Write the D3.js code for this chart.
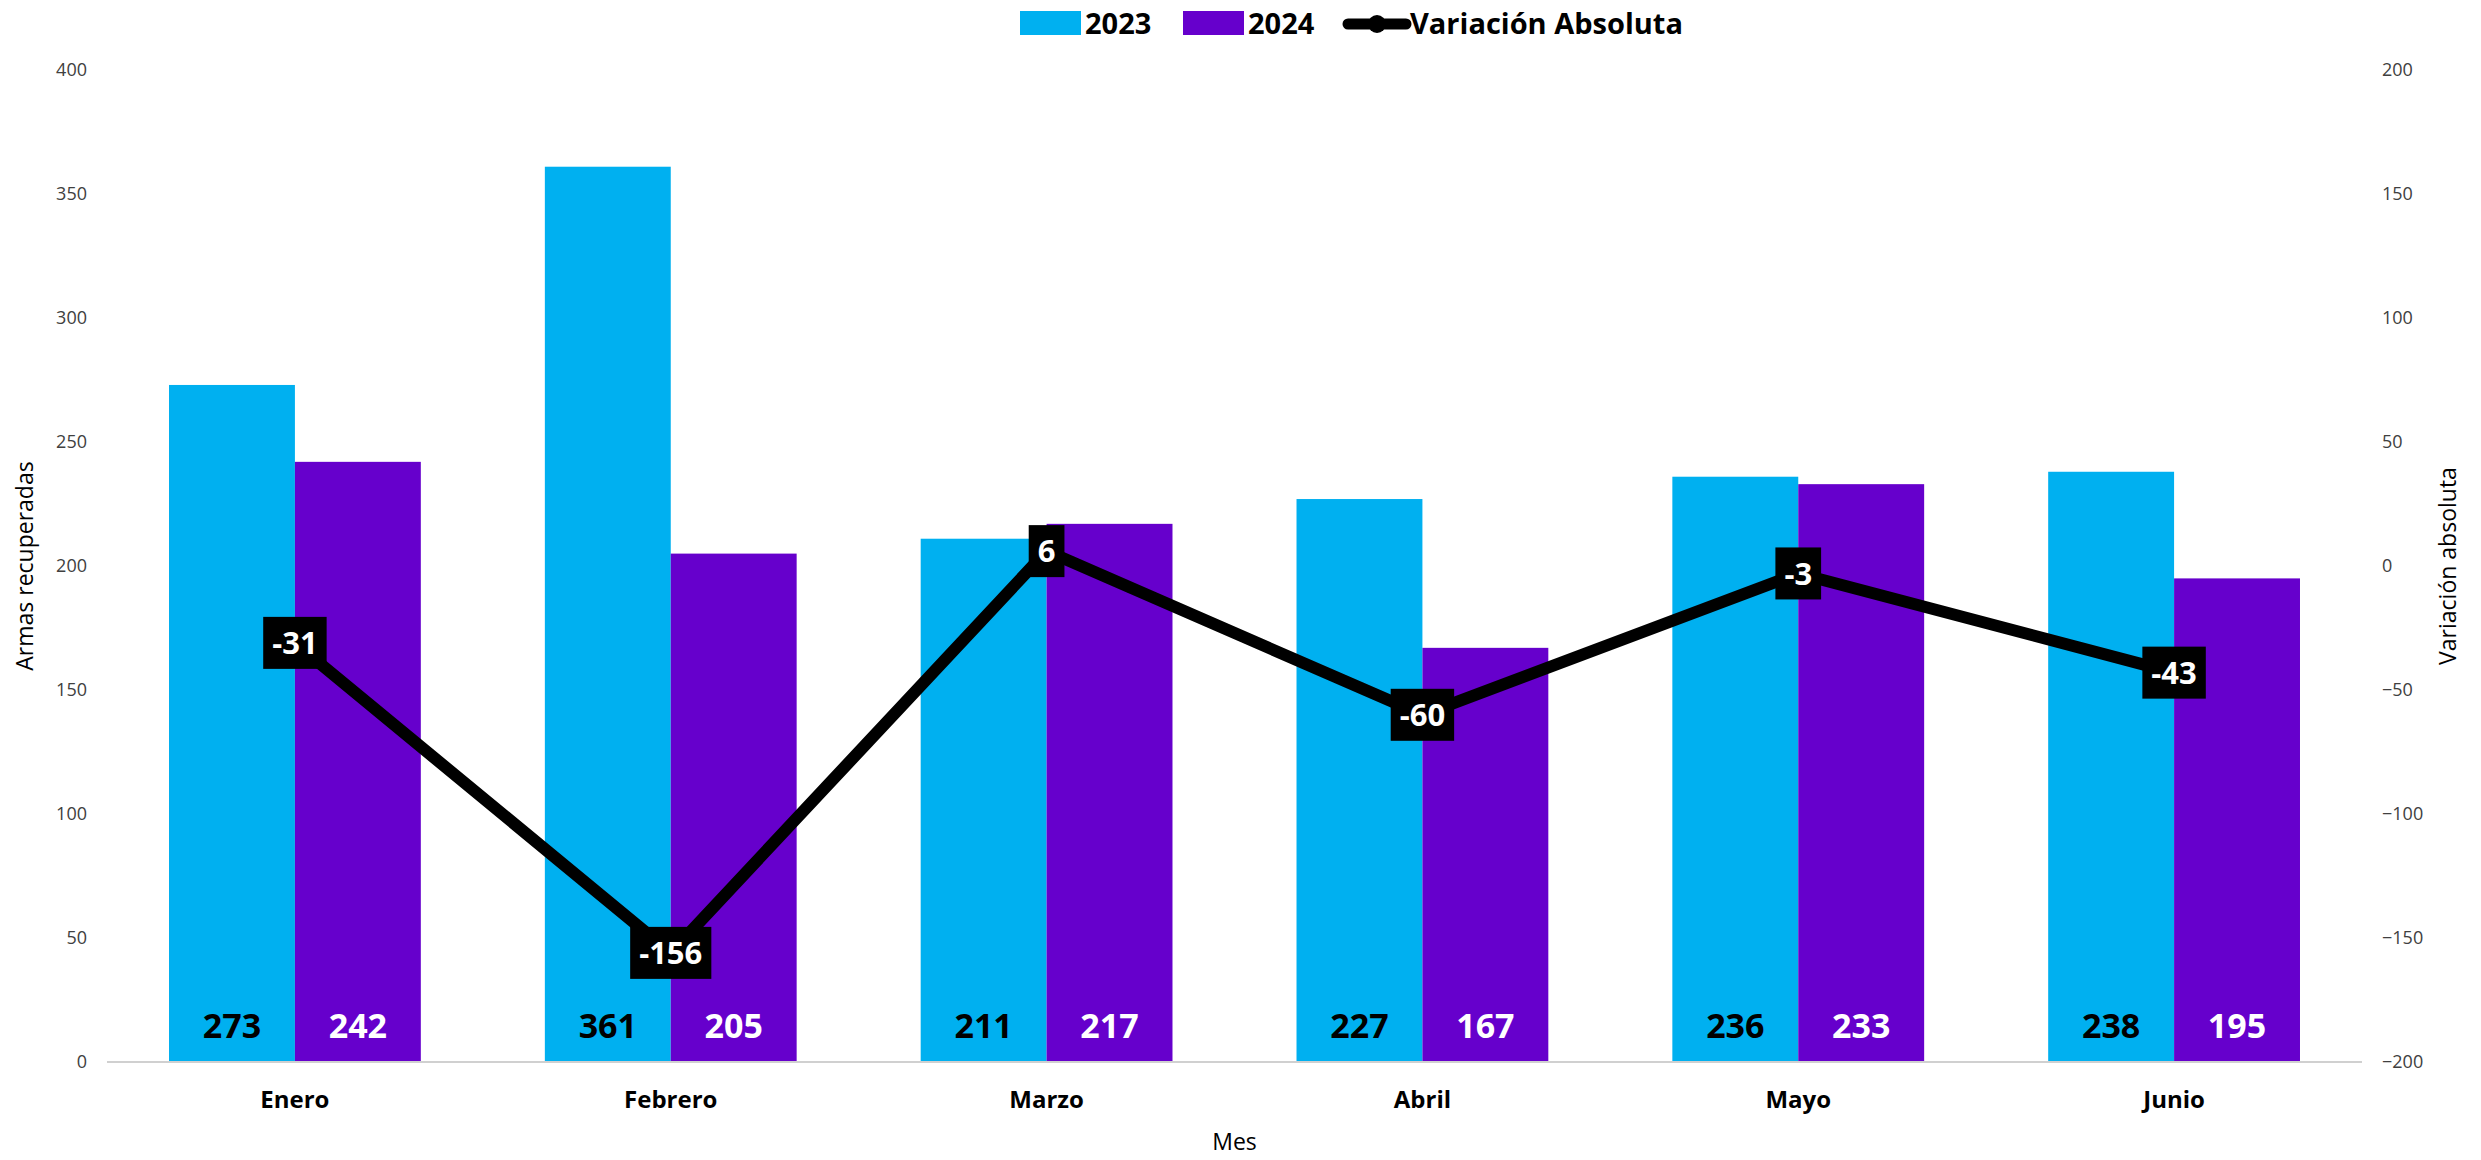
<!DOCTYPE html>
<html lang="en">
<head>
    <meta charset="UTF-8">
    <title>Armas recuperadas</title>
    <script src="https://d3js.org/d3.v7.min.js"></script>
    <style>
        body { margin: 0; background: #fff; }
        svg { width: 2481px; height: 1160px; font-family: "Open Sans", sans-serif; }
    </style>
</head>
<body>
    <svg id="chart"></svg>
    <script>
        // data
        var months = ['Enero', 'Febrero', 'Marzo', 'Abril', 'Mayo', 'Junio'];
        var values2023 = [273, 361, 211, 227, 236, 238];
        var values2024 = [242, 205, 217, 167, 233, 195];
        var variacion = [-31, -156, 6, -60, -3, -43];
        var leftTicks = [0, 50, 100, 150, 200, 250, 300, 350, 400];
        var rightTicks = [-200, -150, -100, -50, 0, 50, 100, 150, 200];

        function program() {
            var c2023 = '#00B0F0', c2024 = '#6600CC';
            var mLeft = 107, mRight = 2362, mTop = 70, mBottom = 1062;

            var svg = d3.select('#chart');

            var x = d3.scaleBand().domain(months).range([mLeft, mRight])
                .paddingInner(0.33).paddingOuter(0.165);
            var xSub = d3.scaleBand().domain(['2023', '2024']).range([0, x.bandwidth()]);
            var y = d3.scaleLinear().domain([0, 400]).range([mBottom, mTop]);
            var y2 = d3.scaleLinear().domain([-200, 200]).range([mBottom, mTop]);

            // axes
            var yAxis = svg.append('g').attr('transform', `translate(${mLeft - 20},0)`)
                .call(d3.axisLeft(y).tickValues(leftTicks).tickSize(0).tickPadding(0));
            var y2Axis = svg.append('g').attr('transform', `translate(${mRight + 20},0)`)
                .call(d3.axisRight(y2).tickValues(rightTicks).tickSize(0).tickPadding(0));
            [yAxis, y2Axis].forEach(function(a) {
                a.select('.domain').remove();
                a.selectAll('text').attr('font-size', 18).attr('fill', '#404040')
                    .attr('font-family', '"Open Sans", sans-serif');
            });

            // bars
            var groups = svg.append('g').selectAll('g').data(months).join('g')
                .attr('transform', d => `translate(${x(d)},0)`);

            groups.append('rect')
                .attr('x', xSub('2023')).attr('width', xSub.bandwidth())
                .attr('y', (d, i) => y(values2023[i]))
                .attr('height', (d, i) => y(0) - y(values2023[i]))
                .attr('fill', c2023);
            groups.append('rect')
                .attr('x', xSub('2024')).attr('width', xSub.bandwidth())
                .attr('y', (d, i) => y(values2024[i]))
                .attr('height', (d, i) => y(0) - y(values2024[i]))
                .attr('fill', c2024);

            groups.append('text')
                .attr('x', xSub('2023') + xSub.bandwidth() / 2).attr('y', mBottom - 24)
                .attr('text-anchor', 'middle').attr('font-size', 34).attr('font-weight', 'bold')
                .attr('fill', '#000').text((d, i) => values2023[i]);
            groups.append('text')
                .attr('x', xSub('2024') + xSub.bandwidth() / 2).attr('y', mBottom - 24)
                .attr('text-anchor', 'middle').attr('font-size', 34).attr('font-weight', 'bold')
                .attr('fill', '#fff').text((d, i) => values2024[i]);

            // baseline
            svg.append('line').attr('x1', mLeft).attr('x2', mRight)
                .attr('y1', mBottom).attr('y2', mBottom)
                .attr('stroke', '#d0d0d0').attr('stroke-width', 2);

            // category labels
            svg.append('g').selectAll('text').data(months).join('text')
                .attr('x', d => x(d) + x.bandwidth() / 2).attr('y', 1108)
                .attr('text-anchor', 'middle').attr('font-size', 24).attr('font-weight', 'bold')
                .attr('fill', '#000').text(d => d);

            // line
            var line = d3.line()
                .x((d, i) => x(months[i]) + x.bandwidth() / 2)
                .y(d => y2(d));
            svg.append('path').datum(variacion).attr('d', line)
                .attr('fill', 'none').attr('stroke', '#000').attr('stroke-width', 12)
                .attr('stroke-linejoin', 'round');

            // line labels
            var lbl = svg.append('g').selectAll('g').data(variacion).join('g')
                .attr('transform', (d, i) => `translate(${x(months[i]) + x.bandwidth() / 2},${y2(d)})`);
            lbl.append('text')
                .attr('text-anchor', 'middle').attr('dy', '0.36em')
                .attr('font-size', 31).attr('font-weight', 'bold').attr('fill', '#fff')
                .text(d => d);
            lbl.each(function() {
                var g = d3.select(this);
                var bb = g.select('text').node().getBBox();
                g.insert('rect', 'text')
                    .attr('x', bb.x - 9).attr('y', -26)
                    .attr('width', bb.width + 18).attr('height', 52)
                    .attr('fill', '#000');
            });

            // axis titles
            svg.append('text').attr('transform', `translate(33,${(mTop + mBottom) / 2}) rotate(-90)`)
                .attr('text-anchor', 'middle').attr('font-size', 23).attr('fill', '#000')
                .text('Armas recuperadas');
            svg.append('text').attr('transform', `translate(2456,${(mTop + mBottom) / 2}) rotate(-90)`)
                .attr('text-anchor', 'middle').attr('font-size', 23).attr('fill', '#000')
                .text('Variación absoluta');
            svg.append('text').attr('x', (mLeft + mRight) / 2).attr('y', 1150)
                .attr('text-anchor', 'middle').attr('font-size', 23).attr('fill', '#000')
                .text('Mes');

            // legend
            var legend = svg.append('g');
            var legendItems = [
                {name: '2023', type: 'rect', color: c2023, x: 1020},
                {name: '2024', type: 'rect', color: c2024, x: 1183},
                {name: 'Variación Absoluta', type: 'line', color: '#000', x: 1345}
            ];
            legendItems.forEach(function(it) {
                if (it.type === 'rect') {
                    legend.append('rect').attr('x', it.x).attr('y', 11)
                        .attr('width', 61).attr('height', 24).attr('fill', it.color);
                } else {
                    legend.append('line').attr('x1', it.x + 3).attr('x2', it.x + 61)
                        .attr('y1', 24).attr('y2', 24).attr('stroke', '#000')
                        .attr('stroke-width', 11).attr('stroke-linecap', 'round');
                    legend.append('circle').attr('cx', it.x + 32).attr('cy', 24).attr('r', 9).attr('fill', '#000');
                }
                legend.append('text').attr('x', it.x + 65).attr('y', 24).attr('dy', '0.35em')
                    .attr('font-size', 29).attr('font-weight', 'bold').attr('fill', '#000')
                    .text(it.name);
            });
        }

        program();
    </script>
</body>
</html>
